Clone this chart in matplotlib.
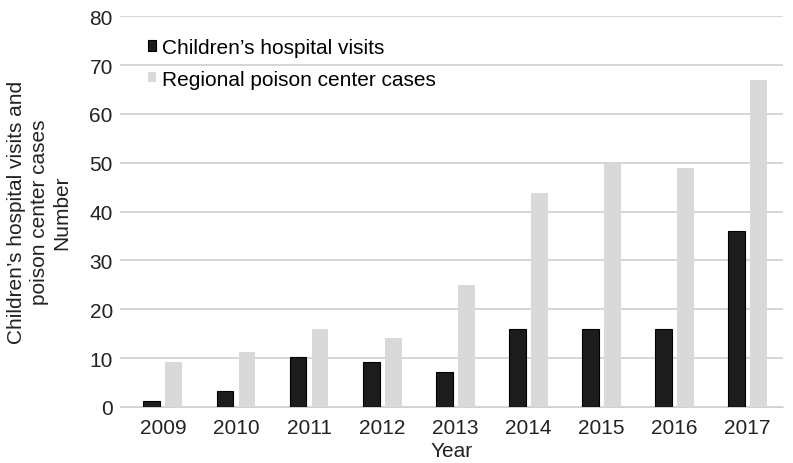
import numpy as np
import matplotlib.pyplot as plt

plt.rcParams['font.family'] = ['Liberation Sans', 'DejaVu Sans']

years = ['2009', '2010', '2011', '2012', '2013', '2014', '2015', '2016', '2017']
hospital_visits = [1.2, 3.3, 10.2, 9.2, 7.2, 16, 16, 16, 36]
poison_cases = [9.2, 11.2, 16, 14.2, 25, 43.8, 50, 48.9, 67]

x = np.arange(len(years))
w = 0.23
gap = 0.07

fig = plt.figure(figsize=(7.93, 4.64), dpi=100)
ax = fig.add_axes([0.151, 0.121, 0.836, 0.842])

ax.bar(x - (w + gap) / 2, hospital_visits, w, color='#1c1c1c', edgecolor='#000000',
       linewidth=0.8, label='Children\u2019s hospital visits', zorder=3)
ax.bar(x + (w + gap) / 2, poison_cases, w, color='#d9d9d9',
       label='Regional poison center cases', zorder=3)

ax.set_ylim(0, 80)
ax.set_yticks(range(0, 81, 10))
ax.set_xlim(-0.59, 8.48)
ax.set_xticks(x)
ax.set_xticklabels(years)
ax.yaxis.grid(True, color='#d0d0d0', linewidth=1.2, zorder=0)
for s in ['top', 'right', 'left']:
    ax.spines[s].set_visible(False)
ax.spines['bottom'].set_color('#d0d0d0')
ax.tick_params(axis='both', length=0, labelsize=15, colors='#222222')
ax.tick_params(axis='x', pad=8)
ax.tick_params(axis='y', pad=5)

ax.set_xlabel('Year', fontsize=15, color='#222222', labelpad=3)
ax.set_ylabel('Children\u2019s hospital visits and\npoison center cases\nNumber',
              fontsize=15, color='#222222', linespacing=1.25, labelpad=13)

ax.legend(loc='upper left', bbox_to_anchor=(0.014, 0.992), frameon=False, fontsize=15,
          handlelength=0.4, handleheight=0.4, handletextpad=0.3, labelspacing=0.6)

plt.savefig('out.png', dpi=100)
